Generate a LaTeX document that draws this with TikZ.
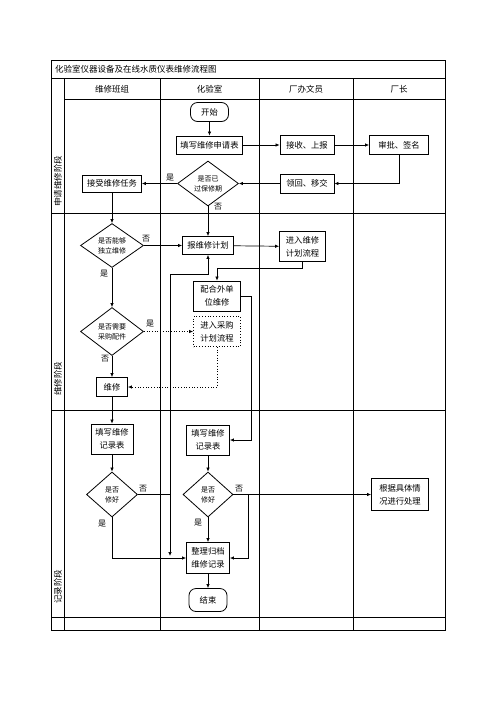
\documentclass[tikz,border=0pt]{standalone}
\usepackage{fontspec}
\setmainfont{Noto Sans CJK SC}
\usetikzlibrary{shapes.geometric,arrows.meta}

\tikzset{
  txt/.style={inner sep=0pt, font=\fontsize{8.5}{10}\selectfont},
  phase/.style={inner sep=0pt, rotate=90, anchor=west, font=\fontsize{8.5}{10}\selectfont},
  box/.style={draw, line width=0.8pt, inner sep=0pt, align=center, font=\fontsize{8.3}{13}\selectfont},
  dbox/.style={box, dotted},
  term/.style={box, rounded corners=7pt},
  dec/.style={draw, diamond, aspect=1.4, line width=0.8pt, inner sep=0pt, align=center, font=\fontsize{7}{10}\selectfont},
  lbl/.style={inner sep=0pt, font=\fontsize{8}{10}\selectfont},
  arr/.style={line width=0.7pt, -{Latex[length=4pt,width=3.5pt]}},
  darr/.style={arr, dotted}
}

\begin{document}
\begin{tikzpicture}[x=1pt,y=-1pt]
    \useasboundingbox (0,0) rectangle (496,702);

    \draw[line width=0.7pt] (51.5,60) rectangle (445,630);
    \draw (51.5,78.5) -- (445,78.5);
    \draw (64.5,99.5) -- (445,99.5);
    \draw (51.5,213) -- (445,213);
    \draw (51.5,410) -- (445,410);
    \draw (51.5,617) -- (445,617);
    \draw (64.5,78.5) -- (64.5,630);
    \foreach \x in {160,259,353}
      \draw (\x,78.5) -- (\x,630);

    \node[txt, anchor=west] (title) at (55,69) {化验室仪器设备及在线水质仪表维修流程图};
    \node[txt] (h1) at (112,89) {维修班组};
    \node[txt] (h2) at (209.5,89) {化验室};
    \node[txt] (h3) at (306,89) {厂办文员};
    \node[txt] (h4) at (399,89) {厂长};

    \node[phase] (s1) at (58,207) {申请维修阶段};
    \node[phase] (s2) at (58,396) {维修阶段};
    \node[phase] (s3) at (58,604) {记录阶段};

    \node[term, minimum width=38, minimum height=19] (start) at (209.5,112) {开始};
    \node[box, minimum width=66, minimum height=18] (apply) at (209.5,145) {填写维修申请表};
    \node[box, minimum width=54, minimum height=19] (recv) at (307,145) {接收、上报};
    \node[box, minimum width=59, minimum height=19] (sign) at (399,145) {审批、签名};
    \node[box, minimum width=54, minimum height=19] (back) at (307,183.5) {领回、移交};
    \node[dec, minimum width=61, minimum height=45] (warr) at (208,183.5) {是否已\\过保修期};
    \node[box, minimum width=59, minimum height=17] (task) at (112,183.5) {接受维修任务};

    \node[dec, minimum width=63, minimum height=44] (self) at (112,245.5) {是否能够\\独立维修};
    \node[box, minimum width=51, minimum height=18] (plan) at (208,245.5) {报维修计划};
    \node[box, minimum width=46, minimum height=30] (pflow) at (302.5,246.5) {进入维修\\计划流程};
    \node[box, minimum width=47, minimum height=30] (outs) at (217,296) {配合外单\\位维修};
    \node[dbox, minimum width=47, minimum height=30] (buy) at (217,331.5) {进入采购\\计划流程};
    \node[dec, minimum width=63, minimum height=48] (parts) at (112,331.5) {是否需要\\采购配件};
    \node[box, minimum width=31, minimum height=19] (fix) at (112,387) {维修};

    \node[box, minimum width=42, minimum height=30] (rec1) at (112,439) {填写维修\\记录表};
    \node[box, minimum width=43, minimum height=30] (rec2) at (208,440) {填写维修\\记录表};
    \node[dec, minimum width=51, minimum height=45] (ok1) at (112,494.5) {是否\\修好};
    \node[dec, minimum width=50, minimum height=45] (ok2) at (208,494.5) {是否\\修好};
    \node[box, minimum width=43, minimum height=31] (arch) at (208,558) {整理归档\\维修记录};
    \node[term, minimum width=38, minimum height=23] (end) at (208,600) {结束};
    \node[box, minimum width=57, minimum height=32] (other) at (400,494.5) {根据具体情\\况进行处理};

    \node[lbl] (l1) at (170,178) {是};
    \node[lbl] (l2) at (218,207) {否};
    \node[lbl] (l3) at (146,239) {否};
    \node[lbl] (l4) at (104,274) {是};
    \node[lbl] (l5) at (150,324) {是};
    \node[lbl] (l6) at (105,359) {否};
    \node[lbl] (l7) at (143,489) {否};
    \node[lbl] (l8) at (102,524) {是};
    \node[lbl] (l9) at (239,489) {否};
    \node[lbl] (l10) at (198,523) {是};

    \coordinate (j1) at (170,274);
    \coordinate (j2) at (170,556);
    \coordinate (j3) at (251,440);
    \coordinate (j4) at (302.5,268);
    \coordinate (j5) at (248,494.5);
    \coordinate (j6) at (170,494.5);

     \draw[arr] (start) -- (apply);
     \draw[arr] (apply) -- (recv);
     \draw[arr] (recv) -- (sign);
     \draw[arr] (sign.south) |- (back.east);
     \draw[arr] (back) -- (warr);
     \draw[arr] (warr) -- (task);
     \draw[arr] (warr) -- (plan);
     \draw[arr] (task) -- (self);

     \draw[arr] (self) -- (plan);
     \draw[arr] (plan) -- (pflow);
     \draw[arr] (pflow.south) -- (j4) -| (outs.north);
     \draw[arr] (self) -- (parts);
     \draw[darr] (parts) -- (buy);
     \draw[darr] (buy.south) |- (fix.east);
     \draw[arr] (parts) -- (fix);
     \draw[arr] (fix) -- (rec1);
     \draw[arr] (outs.east) -| (j3) -- (rec2.east);

     \draw[arr] (rec1) -- (ok1);
     \draw[arr] (ok1.south) |- (arch.west);
     \draw[line width=0.7pt] (ok1.east) -- (j6);
     \draw[arr] (j1) -- (j2);
     \draw[arr] (j1) -| (plan.south);
     \draw[arr] (rec2) -- (ok2);
     \draw[arr] (ok2) -- (arch);
     \draw[arr] (ok2.east) -- (other.west);
     \draw[arr] (j5) |- (arch.east);
     \draw[arr] (arch) -- (end);

  \end{tikzpicture}
\end{document}
